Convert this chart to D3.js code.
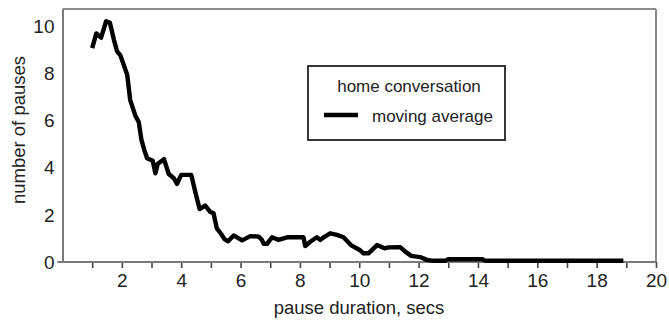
<!DOCTYPE html>
<html>
<head>
<meta charset="utf-8">
<script src="https://cdn.jsdelivr.net/npm/d3@7"></script>
<style>
  html, body { margin: 0; padding: 0; background: #fff; }
  svg { display: block; font-family: "Liberation Sans", Arial, sans-serif; }
</style>
</head>
<body>
<svg id="chart" width="669" height="322"></svg>
<script>
// ---- data ----
const pauseDuration = [1.0, 1.14, 1.3, 1.47, 1.6, 1.73, 1.84, 1.95, 2.18, 2.28, 2.46, 2.57, 2.66, 2.76,
  2.85, 3.04, 3.13, 3.21, 3.42, 3.58, 3.75, 3.86, 4.0, 4.34, 4.45, 4.62, 4.81, 4.97, 5.09,
  5.2, 5.34, 5.47, 5.58, 5.77, 6.05, 6.33, 6.61, 6.72, 6.78, 6.89, 7.06, 7.28, 7.57,
  8.12, 8.18, 8.35, 8.57, 8.69, 8.8, 9.02, 9.25, 9.47, 9.72, 10.03, 10.14, 10.31, 10.6,
  10.85, 10.99, 11.38, 11.55, 11.75, 12.05, 12.28, 12.5, 12.9, 13.0, 14.15, 14.25, 18.9];
const movingAverage = [9.09, 9.71, 9.53, 10.23, 10.16, 9.45, 8.95, 8.78, 7.96, 6.89, 6.2, 5.95, 5.19, 4.75,
  4.41, 4.3, 3.77, 4.17, 4.37, 3.74, 3.56, 3.32, 3.7, 3.7, 3.1, 2.25, 2.4, 2.14, 2.07,
  1.43, 1.2, 0.96, 0.88, 1.13, 0.92, 1.1, 1.08, 0.94, 0.77, 0.77, 1.05, 0.94, 1.05,
  1.05, 0.68, 0.86, 1.05, 0.94, 1.05, 1.22, 1.15, 1.05, 0.72, 0.5, 0.37, 0.37, 0.72,
  0.58, 0.62, 0.63, 0.44, 0.26, 0.21, 0.09, 0.05, 0.05, 0.12, 0.12, 0.05, 0.05];
const xTickValues = d3.range(1, 21);
const xTickLabels = [2, 4, 6, 8, 10, 12, 14, 16, 18, 20];
const yTickValues = [0, 2, 4, 6, 8, 10];
const xTitle = "pause duration, secs";
const yTitle = "number of pauses";
const legendTitle = "home conversation";
const legendSeries = "moving average";

// ---- layout ----
const svg = d3.select("#chart");
const x = d3.scaleLinear().domain([0, 20]).range([62.5, 656]);
const y = d3.scaleLinear().domain([0, 10.75]).range([262, 9]);

const axisColor = "#7a7a7a";
const textColor = "#222";

// frame: top and right (light grey)
svg.append("line").attr("x1", x(0)).attr("x2", x(20)).attr("y1", y(10.75)).attr("y2", y(10.75))
  .attr("stroke", "#8c8c8c").attr("stroke-width", 2);
svg.append("line").attr("x1", x(20)).attr("x2", x(20)).attr("y1", y(10.75)).attr("y2", y(0))
  .attr("stroke", "#8c8c8c").attr("stroke-width", 2);

// y axis
const yAxis = d3.axisLeft(y).tickValues(yTickValues).tickSize(0).tickPadding(8).tickFormat(d3.format("d"));
const gy = svg.append("g").attr("transform", `translate(${x(0)},0)`).call(yAxis);
gy.select(".domain").attr("stroke", axisColor).attr("stroke-width", 2);
gy.selectAll("text").attr("font-size", 19).attr("fill", textColor)
  .attr("font-family", "Liberation Sans, Arial, sans-serif");

// x axis
const xAxis = d3.axisBottom(x).tickValues(xTickValues).tickSize(6).tickPadding(6)
  .tickFormat(d => xTickLabels.includes(d) ? d : "");
const gx = svg.append("g").attr("transform", `translate(0,${y(0)})`).call(xAxis);
gx.select(".domain").remove();
gx.selectAll(".tick line").attr("stroke", "#444").attr("stroke-width", 1.6);
gx.selectAll("text").attr("font-size", 19).attr("fill", textColor)
  .attr("font-family", "Liberation Sans, Arial, sans-serif");
svg.append("line").attr("x1", x(0) - 5).attr("x2", x(20)).attr("y1", y(0)).attr("y2", y(0))
  .attr("stroke", axisColor).attr("stroke-width", 2);

// axis titles
svg.append("text").attr("x", 359).attr("y", 314).attr("text-anchor", "middle")
  .attr("font-size", 18.5).attr("fill", textColor).text(xTitle);
svg.append("text").attr("transform", "translate(25,130) rotate(-90)").attr("text-anchor", "middle")
  .attr("font-size", 18.5).attr("fill", textColor).text(yTitle);

// line
const pts = pauseDuration.map((d, i) => [d, movingAverage[i]]);
const line = d3.line().x(d => x(d[0])).y(d => y(d[1]));
svg.append("path").datum(pts).attr("d", line).attr("fill", "none")
  .attr("stroke", "#000").attr("stroke-width", 4.4).attr("stroke-linejoin", "round");

// legend
const lg = svg.append("g");
lg.append("rect").attr("x", 308).attr("y", 66).attr("width", 197).attr("height", 74)
  .attr("fill", "#fff").attr("stroke", "#222").attr("stroke-width", 1.8);
lg.append("text").attr("x", 409).attr("y", 92).attr("text-anchor", "middle")
  .attr("font-size", 17).attr("fill", textColor).text(legendTitle);
lg.append("line").attr("x1", 324).attr("x2", 358).attr("y1", 115).attr("y2", 115)
  .attr("stroke", "#000").attr("stroke-width", 4.4);
lg.append("text").attr("x", 372).attr("y", 122)
  .attr("font-size", 17).attr("fill", textColor).text(legendSeries);
</script>
</body>
</html>
